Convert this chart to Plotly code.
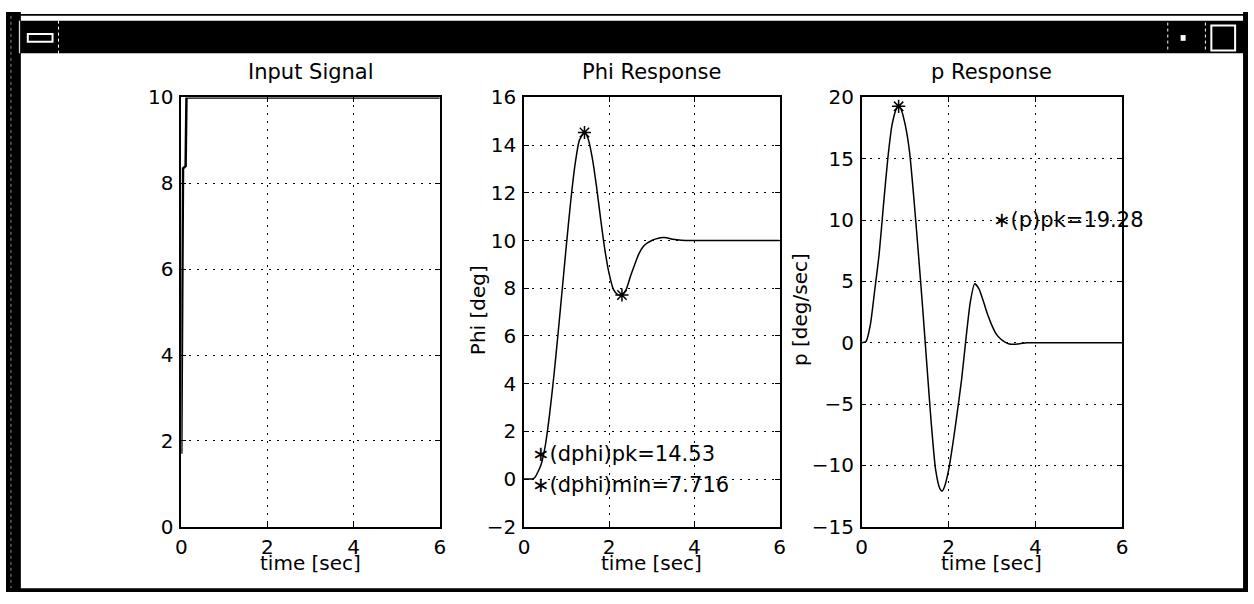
import plotly.graph_objects as go

W, H = 1254, 604

# ---------------- data ----------------
t_in = [0, 0.02, 0.04, 0.10, 0.12, 6.0]
u_in = [1.7, 5.0, 8.35, 8.4, 10.0, 10.0]

t_phi = [0, 0.1, 0.2, 0.25, 0.3, 0.4, 0.5, 0.6, 0.7, 0.8, 0.9, 1.0, 1.1, 1.2, 1.3,
         1.42, 1.5, 1.6, 1.7, 1.8, 1.9, 2.0, 2.1, 2.2, 2.3, 2.4, 2.5, 2.6, 2.7, 2.8,
         2.9, 3.0, 3.1, 3.2, 3.3, 3.4, 3.5, 3.7, 4.0, 5.0, 6.0]
phi = [0, 0, 0, 0.05, 0.2, 0.6, 1.4, 2.7, 4.3, 6.1, 8.0, 9.9, 11.7, 13.2, 14.2,
       14.53, 14.3, 13.5, 12.3, 10.9, 9.6, 8.6, 7.95, 7.73, 7.716, 7.95, 8.5, 9.0, 9.45, 9.75,
       9.9, 10.0, 10.07, 10.12, 10.13, 10.1, 10.05, 10.01, 10.0, 10.0, 10.0]

t_p = [0, 0.1, 0.2, 0.3, 0.4, 0.5, 0.6, 0.7, 0.8, 0.85, 0.9, 1.0, 1.1, 1.2, 1.3, 1.4,
       1.5, 1.6, 1.7, 1.8, 1.85, 1.9, 2.0, 2.1, 2.2, 2.3, 2.4, 2.5, 2.6, 2.7, 2.8, 2.9,
       3.0, 3.1, 3.2, 3.3, 3.4, 3.6, 3.8, 4.0, 5.0, 6.0]
p = [0, 0.1, 1.5, 4.3, 7.2, 11.2, 15.0, 17.8, 19.1, 19.28, 19.1, 17.8, 15.6, 11.8, 7.5, 3.0,
     -1.8, -6.5, -10.3, -11.9, -12.1, -11.8, -10.4, -8.2, -5.7, -3.0, 0.3, 3.3, 4.8, 4.4, 3.4, 2.3,
     1.4, 0.7, 0.3, 0.05, -0.1, -0.1, 0, 0, 0, 0]

phi_marks_t = [1.42, 2.3]
phi_marks_v = [14.53, 7.716]
p_mark_t = [0.85]
p_mark_v = [19.28]

titles = ["Input Signal", "Phi Response", "p Response"]
xlabel = "time [sec]"
ylabels = [None, "Phi [deg]", "p [deg/sec]"]
x_ticks = [0, 2, 4, 6]
y_ranges = [[0, 10], [-2, 16], [-15, 20]]
y_dticks = [2, 2, 5]
texts = [("x2", "y2", 0.14, 1.05, "\u2217(dphi)pk=14.53"),
         ("x2", "y2", 0.14, -0.25, "\u2217(dphi)min=7.716"),
         ("x3", "y3", 2.98, 10.0, "\u2217(p)pk=19.28")]

# ---------------- layout helpers ----------------
def fx(x):
    return x / W

def fy(y):
    return 1 - y / H

FONT = "DejaVu Sans"
x_pix = [(177, 438), (523, 781), (864, 1127)]
y_pix = (89, 536)

fig = go.Figure()

line = dict(color="black", width=1.5)
fig.add_trace(go.Scatter(x=t_in, y=u_in, mode="lines", line=dict(color="black", width=2.5),
                         xaxis="x", yaxis="y", showlegend=False))
fig.add_trace(go.Scatter(x=t_phi, y=phi, mode="lines", line=dict(line, shape="spline", smoothing=0.6),
                         xaxis="x2", yaxis="y2", showlegend=False))
fig.add_trace(go.Scatter(x=phi_marks_t, y=phi_marks_v, mode="markers",
                         marker=dict(symbol="asterisk-open", size=11, color="black",
                                     line=dict(color="black", width=1.5)),
                         xaxis="x2", yaxis="y2", showlegend=False))
fig.add_trace(go.Scatter(x=t_p, y=p, mode="lines", line=dict(line, shape="spline", smoothing=0.6),
                         xaxis="x3", yaxis="y3", showlegend=False))
fig.add_trace(go.Scatter(x=p_mark_t, y=p_mark_v, mode="markers",
                         marker=dict(symbol="asterisk-open", size=11, color="black",
                                     line=dict(color="black", width=1.5)),
                         xaxis="x3", yaxis="y3", showlegend=False))

axis_common = dict(showline=True, linecolor="black", linewidth=1.5, mirror="ticks",
                   ticks="inside", ticklen=5, tickcolor="black", tickwidth=1,
                   showgrid=True, gridcolor="black", gridwidth=1, griddash="2px,6px",
                   zeroline=False, tickfont=dict(family=FONT, size=20, color="black"))

layout = dict(width=W, height=H, margin=dict(l=0, r=0, t=0, b=0),
              paper_bgcolor="white", plot_bgcolor="white",
              font=dict(family=FONT, color="black"), showlegend=False)

annotations = []
for i in range(3):
    sx = "" if i == 0 else str(i + 1)
    x0, x1 = x_pix[i]
    layout["xaxis" + sx] = dict(axis_common, domain=[fx(x0), fx(x1)], range=[0, 6],
                                tickvals=x_ticks, anchor="y" + sx, ticklabelstandoff=2)
    layout["yaxis" + sx] = dict(axis_common, domain=[fy(y_pix[1]), fy(y_pix[0])],
                                range=y_ranges[i], dtick=y_dticks[i], tick0=0,
                                anchor="x" + sx, ticklabelstandoff=2)
    cx = fx((x0 + x1) / 2)
    annotations.append(dict(xref="paper", yref="paper", x=cx, y=fy(63), text=titles[i],
                            showarrow=False, xanchor="center", yanchor="middle",
                            font=dict(family=FONT, size=21, color="black")))
    annotations.append(dict(xref="paper", yref="paper", x=cx, y=fy(574), text=xlabel,
                            showarrow=False, xanchor="center", yanchor="middle",
                            font=dict(family=FONT, size=20, color="black")))
    if ylabels[i]:
        lx = 476 if i == 1 else 801
        annotations.append(dict(xref="paper", yref="paper", x=fx(lx), y=fy(310),
                                text=ylabels[i], textangle=-90, showarrow=False,
                                xanchor="center", yanchor="middle",
                                font=dict(family=FONT, size=20, color="black")))

for xr, yr, xv, yv, s in texts:
    annotations.append(dict(xref=xr, yref=yr, x=xv, y=yv, text=s, showarrow=False,
                            xanchor="left", yanchor="middle",
                            font=dict(family=FONT, size=21, color="black")))

layout["annotations"] = annotations

# window frame decoration
def rect(x0, y0, x1, y1, fill=None, lc=None, lw=0, dash=None):
    d = dict(type="rect", xref="paper", yref="paper", x0=fx(x0), x1=fx(x1),
             y0=fy(y1), y1=fy(y0), layer="above")
    if fill:
        d["fillcolor"] = fill
    d["line"] = dict(color=lc or "rgba(0,0,0,0)", width=lw)
    if dash:
        d["line"]["dash"] = dash
    return d

def vline(x, y0, y1, color, width=1, dash=None):
    d = dict(type="line", xref="paper", yref="paper", x0=fx(x), x1=fx(x), y0=fy(y0), y1=fy(y1),
             line=dict(color=color, width=width), layer="above")
    if dash:
        d["line"]["dash"] = dash
    return d

shapes = [
    rect(0, 0, 15, 604, fill="black"),
    rect(1249, 0, 1254, 604, fill="black"),
    rect(0, 600, 1254, 604, fill="black"),
    rect(0, 2, 1254, 4, fill="black"),
    rect(15, 9, 1250, 43, fill="black"),
    vline(5, 4, 600, "#888888", 1, "dot"),
    vline(13.5, 9, 43, "white", 1),
    rect(22, 23, 47, 31, lc="white", lw=2),
    vline(53, 9, 43, "white", 1, "dot"),
    vline(1173, 11, 42, "white", 1, "dot"),
    rect(1186, 24, 1191, 30, fill="white"),
    vline(1211, 11, 42, "white", 1, "dot"),
    rect(1217, 14, 1241, 40, lc="white", lw=2),
]
layout["shapes"] = shapes

fig.update_layout(**layout)
fig.write_html("out.html")
